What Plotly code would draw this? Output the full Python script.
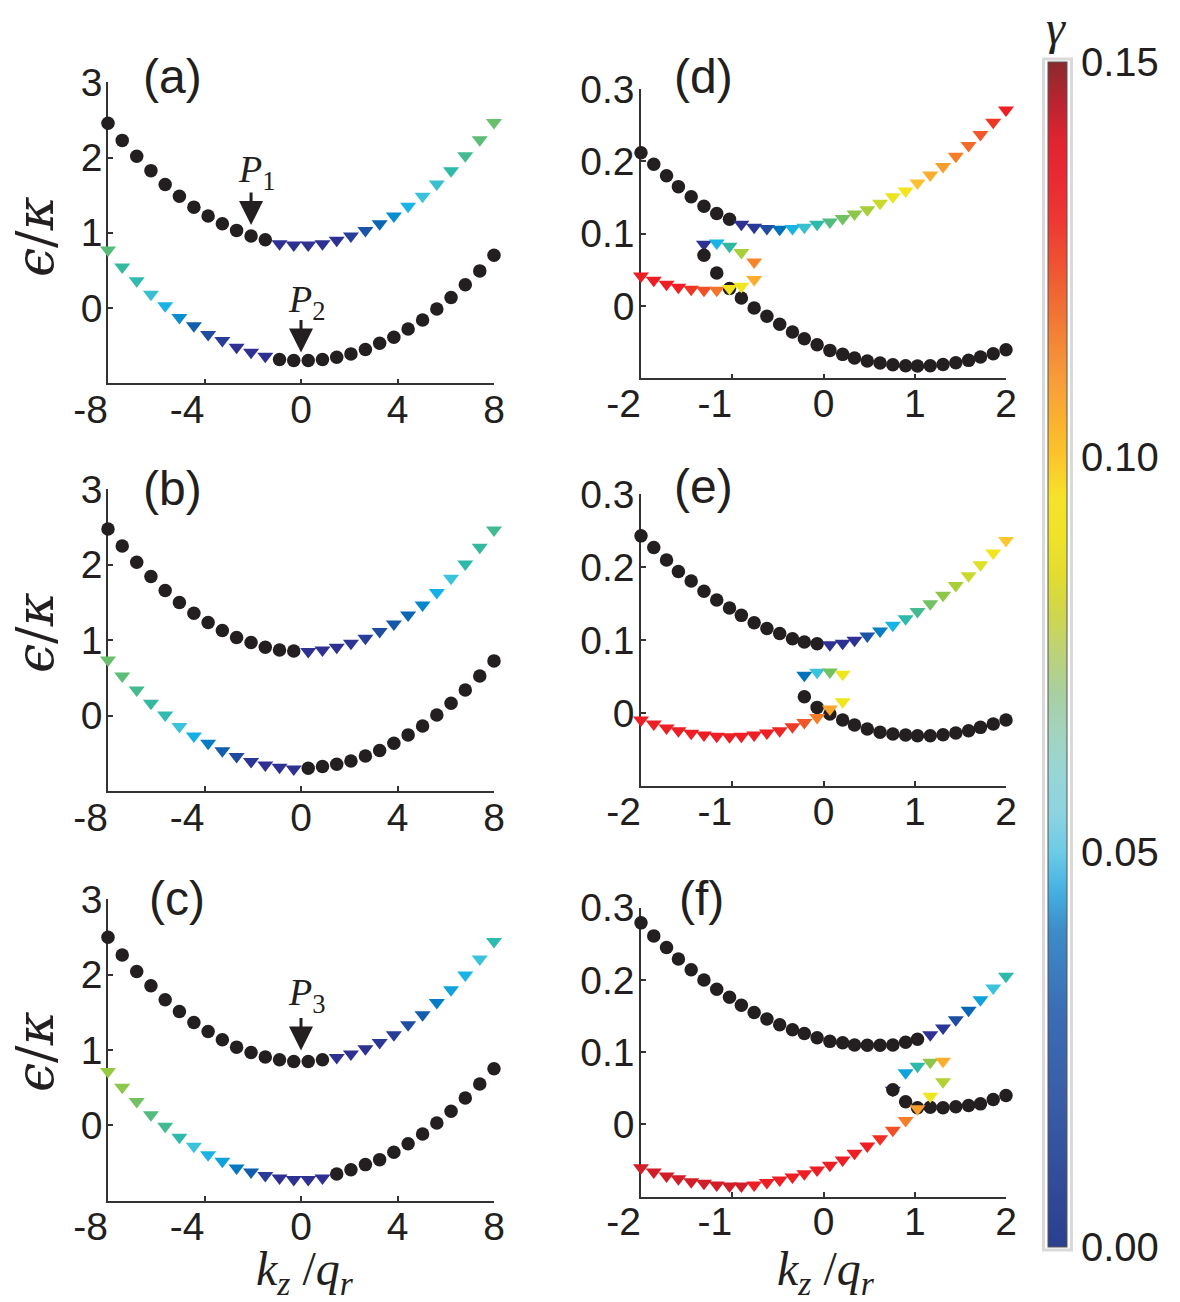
import plotly.graph_objects as go

# ---------------------------------------------------------------------------
# Wave-vector grids  k_z / q_r
# ---------------------------------------------------------------------------
k_wide = [-8.00, -7.41, -6.81, -6.22, -5.63, -5.04, -4.44, -3.85, -3.26, -2.67,
          -2.07, -1.48, -0.89, -0.30, 0.30, 0.89, 1.48, 2.07, 2.67, 3.26,
          3.85, 4.44, 5.04, 5.63, 6.22, 6.81, 7.41, 8.00]
k_narrow = [-2.00, -1.86, -1.72, -1.59, -1.45, -1.31, -1.17, -1.03, -0.90, -0.76,
            -0.62, -0.48, -0.34, -0.21, -0.07, 0.07, 0.21, 0.34, 0.48, 0.62,
            0.76, 0.90, 1.03, 1.17, 1.31, 1.45, 1.59, 1.72, 1.86, 2.00]

# Energies (epsilon/kappa) and growth rates gamma; gamma == 0 -> stable (black dot)
# ---- (a)
a_up_e = [2.457, 2.228, 2.016, 1.826, 1.641, 1.487, 1.341, 1.222, 1.120, 1.032, 0.957, 0.909,
          0.856, 0.838, 0.838, 0.856, 0.900, 0.957, 1.032, 1.120, 1.222, 1.354, 1.487, 1.650,
          1.826, 2.025, 2.236, 2.466]
a_up_g = [0, 0, 0, 0, 0, 0, 0, 0, 0, 0, 0, 0,
          0.004, 0.004, 0.005, 0.005, 0.006, 0.010, 0.018, 0.025, 0.037, 0.043, 0.048, 0.050,
          0.055, 0.060, 0.065, 0.068]
a_lo_e = [0.772, 0.547, 0.362, 0.185, 0.031, -0.124, -0.234, -0.353, -0.432, -0.520, -0.587, -0.640,
          -0.684, -0.697, -0.697, -0.684, -0.653, -0.609, -0.551, -0.468, -0.388, -0.278, -0.159,
          -0.013, 0.141, 0.309, 0.494, 0.701]
a_lo_g = [0.064, 0.057, 0.054, 0.050, 0.043, 0.037, 0.022, 0.015, 0.010, 0.006, 0.005, 0.005,
          0, 0, 0, 0, 0, 0, 0, 0, 0, 0, 0, 0, 0, 0, 0, 0]

# ---- (b)
b_up_e = [2.475, 2.249, 2.033, 1.843, 1.657, 1.498, 1.357, 1.233, 1.127, 1.034, 0.968, 0.906,
          0.870, 0.857, 0.848, 0.870, 0.906, 0.959, 1.025, 1.114, 1.215, 1.335, 1.467, 1.631,
          1.821, 2.011, 2.232, 2.461]
b_up_g = [0, 0, 0, 0, 0, 0, 0, 0, 0, 0, 0, 0, 0, 0,
          0.004, 0.005, 0.005, 0.007, 0.010, 0.015, 0.020, 0.025, 0.035, 0.042, 0.048, 0.055,
          0.057, 0.060]
b_lo_e = [0.738, 0.526, 0.340, 0.163, 0.009, -0.146, -0.270, -0.367, -0.468, -0.544, -0.610,
          -0.654, -0.685, -0.707, -0.698, -0.676, -0.645, -0.601, -0.535, -0.464, -0.367, -0.256,
          -0.137, 0.009, 0.163, 0.340, 0.526, 0.725]
b_lo_g = [0.068, 0.065, 0.060, 0.057, 0.054, 0.048, 0.042, 0.033, 0.022, 0.014, 0.007, 0.005,
          0.005, 0.004, 0, 0, 0, 0, 0, 0, 0, 0, 0, 0, 0, 0, 0, 0]

# ---- (c)
c_up_e = [2.497, 2.262, 2.042, 1.852, 1.666, 1.511, 1.365, 1.246, 1.136, 1.038, 0.968, 0.906,
          0.871, 0.848, 0.848, 0.871, 0.901, 0.946, 1.016, 1.100, 1.202, 1.335, 1.467, 1.631,
          1.798, 1.997, 2.209, 2.439]
c_up_g = [0, 0, 0, 0, 0, 0, 0, 0, 0, 0, 0, 0, 0, 0, 0, 0,
          0.004, 0.005, 0.006, 0.008, 0.010, 0.015, 0.022, 0.033, 0.040, 0.043, 0.048, 0.054]
c_lo_e = [0.716, 0.504, 0.318, 0.141, -0.013, -0.159, -0.278, -0.389, -0.477, -0.566, -0.619,
          -0.667, -0.698, -0.720, -0.720, -0.698, -0.645, -0.588, -0.521, -0.455, -0.358, -0.243,
          -0.115, 0.031, 0.186, 0.362, 0.548, 0.751]
c_lo_g = [0.077, 0.075, 0.070, 0.063, 0.060, 0.055, 0.048, 0.043, 0.040, 0.032, 0.022, 0.010,
          0.006, 0.005, 0.005, 0.005, 0, 0, 0, 0, 0, 0, 0, 0, 0, 0, 0, 0]

# ---- (d)
d_up_e = [0.212, 0.196, 0.180, 0.165, 0.151, 0.138, 0.128, 0.120, 0.113, 0.109, 0.107, 0.106,
          0.107, 0.109, 0.113, 0.116, 0.121, 0.127, 0.133, 0.142, 0.151, 0.159, 0.170, 0.181,
          0.193, 0.207, 0.222, 0.237, 0.254, 0.271]
d_up_g = [0, 0, 0, 0, 0, 0, 0, 0,
          0.005, 0.008, 0.015, 0.030, 0.043, 0.050, 0.055, 0.063, 0.070, 0.075, 0.080, 0.086,
          0.093, 0.095, 0.104, 0.108, 0.112, 0.120, 0.124, 0.128, 0.136, 0.142]
d_lo_e = [0.0415, 0.0355, 0.0300, 0.0260, 0.0230, 0.0217, 0.0217, 0.0241, 0.0273, 0.0365]
d_lo_g = [0.142, 0.142, 0.142, 0.142, 0.136, 0.130, 0.122, 0.094, 0.094, 0.108]
d_loop_e = [0.0854, 0.0872, 0.0827, 0.0739, 0.0609]
d_loop_g = [0.005, 0.043, 0.056, 0.080, 0.118]
d_mid_e = [0.0702, 0.0457, 0.0241, 0.0111, -0.0028, -0.0143, -0.0254, -0.0360, -0.0452,
           -0.0535, -0.0614, -0.0669, -0.0720, -0.0761, -0.0789, -0.0812, -0.0826, -0.0831,
           -0.0826, -0.0808, -0.0785, -0.0752, -0.0706, -0.0660, -0.0605]
d_mid_g = [0, 0, 0, 0, 0, 0, 0, 0, 0, 0, 0, 0, 0, 0, 0, 0, 0, 0, 0, 0, 0, 0, 0, 0, 0]

# ---- (e)
e_up_e = [0.243, 0.227, 0.210, 0.194, 0.181, 0.167, 0.155, 0.144, 0.134, 0.124, 0.116, 0.109,
          0.102, 0.0974, 0.0951, 0.0938, 0.0956, 0.0997, 0.1056, 0.1124, 0.1206, 0.1293,
          0.1393, 0.150, 0.1616, 0.1748, 0.1884, 0.2035, 0.2194, 0.2367]
e_up_g = [0, 0, 0, 0, 0, 0, 0, 0, 0, 0, 0, 0, 0, 0, 0,
          0.004, 0.005, 0.006, 0.018, 0.033, 0.043, 0.055, 0.060, 0.070, 0.075, 0.080, 0.086,
          0.090, 0.094, 0.102]
e_lo_e = [-0.0096, -0.0150, -0.0205, -0.0241, -0.0278, -0.0300, -0.0319, -0.0323, -0.0319,
          -0.0300, -0.0273, -0.0241, -0.0187, -0.0130, -0.0060, 0.0055, 0.0154]
e_lo_g = [0.142, 0.142, 0.142, 0.142, 0.142, 0.142, 0.142, 0.142, 0.142, 0.142, 0.142,
          0.140, 0.135, 0.128, 0.120, 0.110, 0.094]
e_loop_e = [0.0519, 0.0560, 0.0564, 0.0533]
e_loop_g = [0.030, 0.048, 0.070, 0.094]
e_mid_e = [0.0223, 0.0078, -0.0014, -0.0096, -0.0164, -0.0218, -0.0264, -0.0287, -0.0300,
           -0.0310, -0.0310, -0.0296, -0.0273, -0.0241, -0.0196, -0.0150, -0.0096]
e_mid_g = [0, 0, 0, 0, 0, 0, 0, 0, 0, 0, 0, 0, 0, 0, 0, 0, 0]

# ---- (f)
f_up_e = [0.279, 0.261, 0.245, 0.229, 0.214, 0.200, 0.187, 0.176, 0.165, 0.155, 0.146, 0.138,
          0.131, 0.126, 0.120, 0.115, 0.113, 0.110, 0.1095, 0.1095, 0.110, 0.1137, 0.118, 0.124,
          0.1335, 0.145, 0.158, 0.1726, 0.1887, 0.205]
f_up_g = [0, 0, 0, 0, 0, 0, 0, 0, 0, 0, 0, 0, 0, 0, 0, 0, 0, 0, 0, 0, 0, 0, 0,
          0.004, 0.008, 0.015, 0.026, 0.040, 0.048, 0.055]
f_lo_e = [-0.0598, -0.0658, -0.0713, -0.0750, -0.0792, -0.0815, -0.0838, -0.0851, -0.0851,
          -0.0838, -0.0805, -0.0769, -0.0727, -0.0681, -0.0630, -0.0566, -0.0492, -0.0400,
          -0.0299, -0.0198, -0.0079, 0.0055, 0.0217, 0.0390, 0.0590]
f_lo_g = [0.146, 0.146, 0.146, 0.146, 0.146, 0.146, 0.146, 0.146, 0.146,
          0.142, 0.142, 0.142, 0.142, 0.142, 0.142, 0.142, 0.142, 0.142, 0.142,
          0.138, 0.130, 0.120, 0.112, 0.094, 0.082]
f_loop_e = [0.0474, 0.0714, 0.0805, 0.0860, 0.0874]
f_loop_g = [0.004, 0.040, 0.055, 0.075, 0.108]
f_mid_e = [0.0480, 0.0313, 0.0230, 0.0239, 0.0230, 0.0244, 0.0262, 0.0285, 0.0345, 0.0400]
f_mid_g = [0, 0, 0, 0, 0, 0, 0, 0, 0, 0]

# Axis ticks
wide_xticks = [-8, -4, 0, 4, 8]
wide_yticks = [0, 1, 2, 3]
narrow_xticks = [-2, -1, 0, 1, 2]
narrow_yticks = [0, 0.1, 0.2, 0.3]
narrow_ylabels = ["0", "0.1", "0.2", "0.3"]
gamma_ticks = [0, 0.05, 0.10, 0.15]
gamma_labels = ["0.00", "0.05", "0.10", "0.15"]
GAMMA_MAX = 0.15

# ---------------------------------------------------------------------------
# Colour scales
# ---------------------------------------------------------------------------
marker_scale = [
    [0.00, "#2e3192"], [0.04, "#2e3192"], [0.10, "#1f4da0"], [0.15, "#0f5fae"],
    [0.20, "#0071bc"], [0.25, "#0a90d0"], [0.28, "#13b0e8"], [0.32, "#3cc3dc"],
    [0.37, "#2db9a6"], [0.42, "#52bb7f"], [0.47, "#74c161"], [0.52, "#9ccb3b"],
    [0.57, "#c6d92e"], [0.63, "#f4e61e"], [0.68, "#fdc82f"], [0.73, "#f9a82f"],
    [0.79, "#f7842a"], [0.85, "#f15a29"], [0.90, "#ee3a24"], [0.95, "#ed1c24"],
    [1.00, "#b3202d"],
]
bar_scale = [
    [0.000, "#2b3f8f"], [0.133, "#3a5fa8"], [0.200, "#3b6db5"], [0.267, "#3d8cc8"],
    [0.300, "#45b0e0"], [0.333, "#6ccbe6"], [0.367, "#8ed3df"], [0.400, "#98d5d5"],
    [0.433, "#a3d3c0"], [0.467, "#a8cfa0"], [0.500, "#bcd27a"], [0.533, "#cfd64e"],
    [0.567, "#e2dc30"], [0.600, "#f0e229"], [0.633, "#f6e22a"], [0.667, "#fbc52c"],
    [0.700, "#f9b030"], [0.733, "#f69c3a"], [0.767, "#f38436"], [0.800, "#f06a33"],
    [0.833, "#ee5033"], [0.867, "#ec3834"], [0.900, "#ea2a33"], [0.933, "#e02431"],
    [0.967, "#b8242f"], [1.000, "#8a2a2f"],
]

INK = "#231f20"
SANS = "Liberation Sans, Arial, Helvetica, sans-serif"
SERIF = "Liberation Serif, Times New Roman, serif"
GREEK = "DejaVu Serif, serif"

# ---------------------------------------------------------------------------
# Panels: (axis suffix, k grid, list of (energies, gammas, start index, is_loop))
# ---------------------------------------------------------------------------
panels = [
    ("", k_wide, [(a_up_e, a_up_g, 0, False), (a_lo_e, a_lo_g, 0, False)]),
    ("2", k_wide, [(b_up_e, b_up_g, 0, False), (b_lo_e, b_lo_g, 0, False)]),
    ("3", k_wide, [(c_up_e, c_up_g, 0, False), (c_lo_e, c_lo_g, 0, False)]),
    ("4", k_narrow, [(d_up_e, d_up_g, 0, False), (d_lo_e, d_lo_g, 0, False),
                     (d_loop_e, d_loop_g, 5, True), (d_mid_e, d_mid_g, 5, False)]),
    ("5", k_narrow, [(e_up_e, e_up_g, 0, False), (e_lo_e, e_lo_g, 0, False),
                     (e_loop_e, e_loop_g, 13, True), (e_mid_e, e_mid_g, 13, False)]),
    ("6", k_narrow, [(f_up_e, f_up_g, 0, False), (f_lo_e, f_lo_g, 0, False),
                     (f_loop_e, f_loop_g, 20, True), (f_mid_e, f_mid_g, 20, False)]),
]

fig = go.Figure()


def split(series, kgrid):
    energies, gammas, start, _ = series
    ks = kgrid[start:start + len(energies)]
    stable = [(k, e) for k, e, g in zip(ks, energies, gammas) if g == 0]
    unstable = [(k, e, g) for k, e, g in zip(ks, energies, gammas) if g != 0]
    return stable, unstable


def add_triangles(pts, sfx):
    if not pts:
        return
    fig.add_trace(go.Scatter(
        x=[p[0] for p in pts], y=[p[1] for p in pts], xaxis="x" + sfx, yaxis="y" + sfx,
        mode="markers", cliponaxis=False, hoverinfo="skip", showlegend=False,
        marker=dict(symbol="triangle-down", size=14, color=[p[2] for p in pts],
                    colorscale=marker_scale, cmin=0, cmax=GAMMA_MAX, line=dict(width=0))))


def add_dots(pts, sfx):
    if not pts:
        return
    fig.add_trace(go.Scatter(
        x=[p[0] for p in pts], y=[p[1] for p in pts], xaxis="x" + sfx, yaxis="y" + sfx,
        mode="markers", cliponaxis=False, hoverinfo="skip", showlegend=False,
        marker=dict(symbol="circle", size=13.5, color=INK, line=dict(width=0))))


for sfx, kgrid, series_list in panels:
    # loop branches sit behind the stable dots, band triangles in front
    for s in series_list:
        if s[3]:
            add_triangles(split(s, kgrid)[1], sfx)
    for s in series_list:
        add_dots(split(s, kgrid)[0], sfx)
    for s in series_list:
        if not s[3]:
            add_triangles(split(s, kgrid)[1], sfx)

# Colour bar for gamma
fig.add_trace(go.Scatter(
    x=[k_wide[0]], y=[0], xaxis="x", yaxis="y", mode="markers", hoverinfo="skip",
    showlegend=False,
    marker=dict(size=1, opacity=0, color=[0], cmin=0, cmax=GAMMA_MAX, colorscale=bar_scale,
                showscale=True,
                colorbar=dict(x=1048 / 1180, xanchor="left", xpad=0,
                              y=1 - 62 / 1302, yanchor="top", ypad=0,
                              len=1185, lenmode="pixels", thickness=19,
                              outlinewidth=1, outlinecolor="#555555",
                              tickmode="array", tickvals=gamma_ticks, ticktext=gamma_labels,
                              ticks="outside", ticklen=6, tickcolor="rgba(0,0,0,0)",
                              tickfont=dict(family=SANS, size=40, color=INK)))))

W, H = 1180, 1302


def px_x(v):
    return v / W


def px_y(v):
    return 1 - v / H


def hang_minus(vals):
    # negative labels end at their tick, as in the original typesetting
    out = []
    for v in vals:
        s = f"{v:g}"
        if s.startswith("-"):
            s = s + f"<span style='color:rgba(0,0,0,0)'>{s}</span>"
        out.append(s)
    return out


axis_common = dict(showline=True, linecolor="#333333", linewidth=1.5, ticks="inside",
                   ticklen=5, tickwidth=1.5, tickcolor="#333333", showgrid=False,
                   zeroline=False, layer="below traces", fixedrange=True, automargin=False,
                   tickfont=dict(family=SANS, size=39, color=INK), tickmode="array")

left_x = (108, 494)
right_x = (641, 1006)
wide_rows = [(82.3, 383.3), (489.3, 791.0), (899.3, 1200.7)]
narrow_rows = [(89.0, 378.3), (494.3, 786.0), (907.7, 1196.7)]

layout_axes = {}
for i, (top, bot) in enumerate(wide_rows):
    sfx = "" if i == 0 else str(i + 1)
    layout_axes["xaxis" + sfx] = dict(axis_common, domain=[px_x(left_x[0]), px_x(left_x[1])],
                                      range=[-8, 8], anchor="y" + sfx, tickvals=wide_xticks,
                                      ticktext=hang_minus(wide_xticks), ticklabelstandoff=-9)
    layout_axes["yaxis" + sfx] = dict(axis_common, domain=[px_y(bot), px_y(top)],
                                      range=[-1, 3], anchor="x" + sfx, tickvals=wide_yticks,
                                      ticktext=[str(v) for v in wide_yticks],
                                      ticklabelstandoff=-4)
for i, (top, bot) in enumerate(narrow_rows):
    sfx = str(i + 4)
    layout_axes["xaxis" + sfx] = dict(axis_common, domain=[px_x(right_x[0]), px_x(right_x[1])],
                                      range=[-2, 2], anchor="y" + sfx, tickvals=narrow_xticks,
                                      ticktext=hang_minus(narrow_xticks), ticklabelstandoff=-10)
    layout_axes["yaxis" + sfx] = dict(axis_common, domain=[px_y(bot), px_y(top)],
                                      range=[-0.1, 0.3], anchor="x" + sfx,
                                      tickvals=narrow_yticks, ticktext=narrow_ylabels,
                                      ticklabelstandoff=-3)

annotations = []

# panel letters
for txt, cx, cy in [("(a)", 172, 77), ("(b)", 172, 488), ("(c)", 177, 898),
                    ("(d)", 703, 77), ("(e)", 703, 487), ("(f)", 701, 898)]:
    annotations.append(dict(text=txt, x=px_x(cx), y=px_y(cy), xref="paper", yref="paper",
                            xanchor="center", yanchor="middle", showarrow=False,
                            font=dict(family=SANS, size=48, color=INK)))

# y titles
for cy in (237, 633, 1052):
    annotations.append(dict(text="<i>ϵ</i>/<i>κ</i>", x=px_x(35), y=px_y(cy), xref="paper",
                            yref="paper", xanchor="center", yanchor="middle", textangle=-90,
                            showarrow=False, font=dict(family=GREEK, size=52, color=INK)))

# x titles
for cx in (305, 826):
    annotations.append(dict(text="<i>k</i><sub><i>z</i></sub> /<i>q</i><sub><i>r</i></sub>",
                            x=px_x(cx), y=px_y(1272), xref="paper", yref="paper",
                            xanchor="center", yanchor="middle", showarrow=False,
                            font=dict(family=SERIF, size=48, color=INK)))

# colour-bar title
annotations.append(dict(text="<i>γ</i>", x=px_x(1056), y=px_y(28), xref="paper", yref="paper",
                        xanchor="center", yanchor="middle", showarrow=False,
                        font=dict(family=SERIF, size=48, color=INK)))

# marked points P1, P2, P3
marks = [
    ("1", "", k_wide[10], a_up_e[10], -45, 11, 64),
    ("2", "", 0, min(a_lo_e), -42, 8, 58),
    ("3", "3", 0, min(c_up_e), -45, 11, 66),
]
for idx, sfx, mx, my, ay, standoff, lift in marks:
    annotations.append(dict(x=mx, y=my, xref="x" + sfx, yref="y" + sfx, text="",
                            showarrow=True, ax=0, ay=ay, arrowhead=2, arrowsize=1.6,
                            arrowwidth=3, arrowcolor=INK, standoff=standoff))
    annotations.append(dict(x=mx, y=my, xref="x" + sfx, yref="y" + sfx,
                            text=f"<i>P</i><sub>{idx}</sub>", showarrow=False,
                            xanchor="center", yanchor="middle", xshift=6, yshift=lift,
                            font=dict(family=SERIF, size=38, color=INK)))

shapes = [dict(type="rect", xref="paper", yref="paper",
               x0=px_x(1043.5), x1=px_x(1071.5), y0=px_y(1250), y1=px_y(59),
               line=dict(color="#d9d9d9", width=3), fillcolor="rgba(0,0,0,0)",
               layer="below")]

fig.update_layout(
    width=W, height=H, margin=dict(l=0, r=0, t=0, b=0, autoexpand=False),
    paper_bgcolor="white", plot_bgcolor="white", showlegend=False, hovermode=False,
    annotations=annotations, shapes=shapes, **layout_axes)

fig.write_html("out.html")
